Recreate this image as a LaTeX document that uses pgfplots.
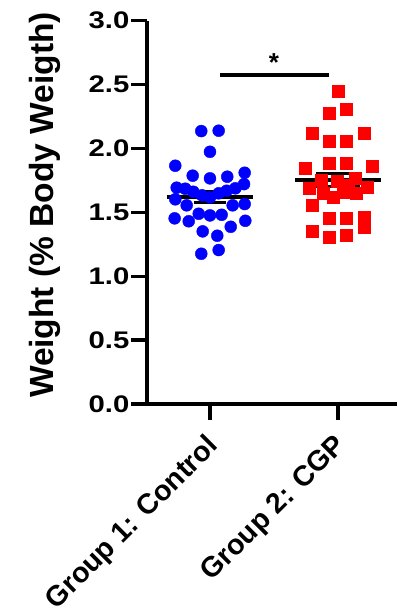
\documentclass[border=0pt]{standalone}
\usepackage{fontspec}
\setmainfont{Liberation Sans}
\newfontfamily\tickfont{Liberation Sans}[FakeStretch=1.22]
\usepackage{pgfplots}
\pgfplotsset{compat=1.18}
\definecolor{pblue}{RGB}{0,0,255}
\definecolor{pred}{RGB}{255,0,0}
\begin{document}
\begin{tikzpicture}
\useasboundingbox (0,0) rectangle (397pt,613pt);
\begin{axis}[
 at={(147pt,209pt)}, anchor=south west,
 scale only axis, width=250pt, height=383.3pt,
 xmin=0.508, xmax=2.461, ymin=0, ymax=3,
 axis x line*=bottom, axis y line*=left,
 axis line style={line width=3.5pt, -},
 every tick/.style={black, line width=3.3pt},
 tick align=outside, major tick length=16pt,
 xtick={1,2}, xticklabels={Group 1: Control, Group 2: CGP},
 ytick={0,0.5,1.0,1.5,2.0,2.5,3.0},
 yticklabels={0.0,0.5,1.0,1.5,2.0,2.5,3.0},
 yticklabel style={font=\tickfont\fontsize{24}{28}\selectfont\bfseries, inner xsep=1.5pt},
 xticklabel style={xshift=-5pt, yshift=-11pt, font=\fontsize{28.5}{32}\selectfont\bfseries, rotate=45, anchor=north east, inner sep=1pt},
 ylabel={Weight (\% Body Weigth)},
 ylabel style={font=\fontsize{33.5}{38}\selectfont\bfseries, at={(axis description cs:-0.41,0.519)}, anchor=center},
 clip=false,
]
% group means and SEM
\addplot[black, line width=4pt] coordinates {(0.664,1.622) (1.336,1.622)};
\addplot[black, line width=2.8pt] coordinates {(0.875,1.578) (1.125,1.578)};
\addplot[black, line width=2.8pt] coordinates {(0.875,1.666) (1.125,1.666)};
\addplot[black, line width=2.8pt] coordinates {(1,1.578) (1,1.666)};
\addplot[black, line width=4pt] coordinates {(1.664,1.753) (2.336,1.753)};
\addplot[black, line width=2.8pt] coordinates {(1.83,1.805) (2.17,1.805)};
\addplot[black, line width=2.8pt] coordinates {(1.83,1.701) (2.17,1.701)};
\addplot[black, line width=2.8pt] coordinates {(2,1.701) (2,1.805)};
% group 1: control
\addplot[only marks, mark=*, mark size=6pt, color=pblue, mark options={fill=pblue, draw=pblue}] coordinates {
(0.932,2.136) (1.068,2.139) (1.000,1.974) (0.729,1.865) (0.865,1.787)
(1.000,1.766) (1.135,1.779) (1.271,1.810) (0.740,1.693) (0.807,1.685)
(0.870,1.661) (0.938,1.633) (1.000,1.617) (1.068,1.649) (1.130,1.669)
(1.198,1.688) (1.266,1.721) (0.729,1.602) (0.818,1.555) (1.177,1.555)
(1.271,1.565) (0.724,1.453) (0.834,1.430) (0.912,1.489) (1.000,1.476)
(1.091,1.481) (1.276,1.434) (1.162,1.387) (0.943,1.351) (1.057,1.317)
(0.932,1.176) (1.068,1.205)
};
% group 2: CGP
\addplot[only marks, mark=square*, mark size=6pt, color=pred, mark options={fill=pred, draw=pred}] coordinates {
(2.000,2.452) (1.932,2.275) (2.068,2.308) (1.797,2.118) (2.203,2.118)
(1.932,2.053) (2.068,2.053) (1.740,1.848) (1.932,1.883) (2.068,1.888)
(2.271,1.862) (1.865,1.753) (1.990,1.747) (2.135,1.766) (1.776,1.688)
(2.229,1.695) (1.885,1.653) (1.963,1.622) (2.041,1.661) (2.146,1.649)
(2.078,1.710) (1.797,1.555) (1.932,1.453) (2.068,1.453) (2.203,1.461)
(2.203,1.387) (1.797,1.356) (1.932,1.309) (2.068,1.322)
};
% significance bar
\addplot[black, line width=4pt] coordinates {(1.078,2.574) (1.930,2.574)};
\node[font=\fontsize{26}{30}\selectfont\bfseries, anchor=south] at (axis cs:1.50,2.575) {*};
\end{axis}
\end{tikzpicture}
\end{document}
